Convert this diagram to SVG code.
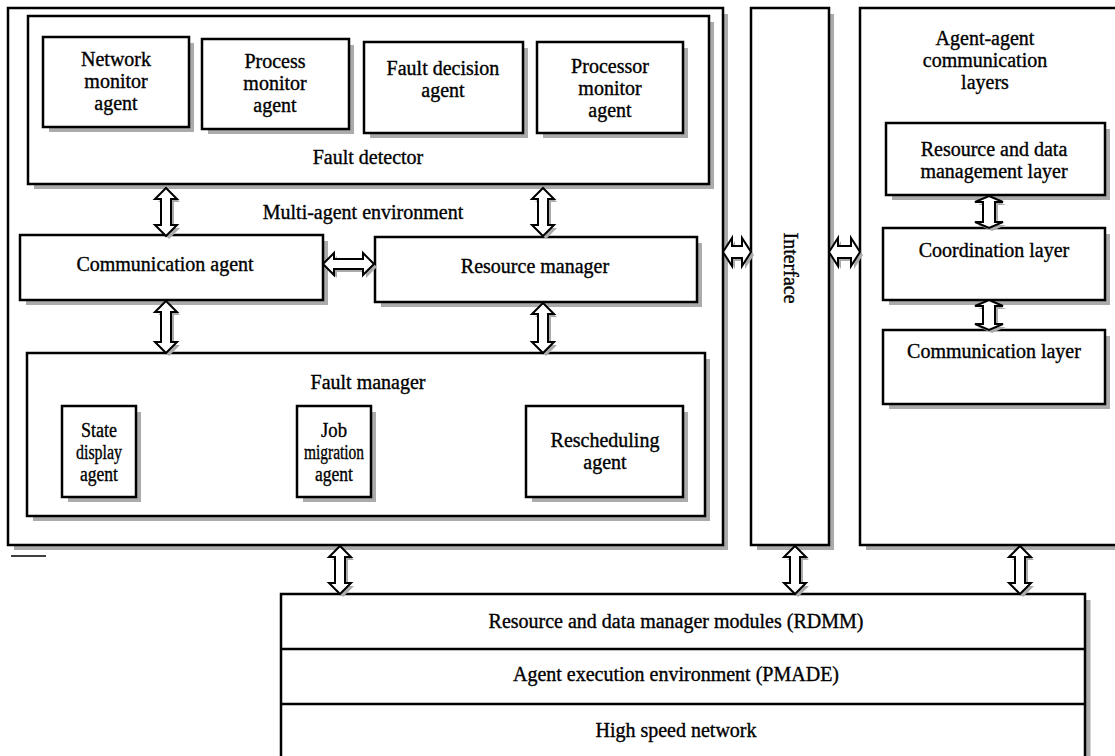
<svg xmlns="http://www.w3.org/2000/svg" width="1115" height="756" viewBox="0 0 1115 756">
<style>
.box{fill:#ffffff;stroke:#000000;stroke-width:2.5}
.sh{fill:none;stroke:#ababab;stroke-width:5}
.ash{fill:#ababab}
.arr{fill:#ffffff;stroke:#000000;stroke-width:2}
text{font-family:"Liberation Serif","Times New Roman",serif;font-size:20px;fill:#000000;stroke:#000000;stroke-width:0.35;text-anchor:middle}
</style>
<rect width="1115" height="756" fill="#ffffff"/>

<g id="multi-agent-environment">
<path class="sh" d="M725.5,14 V547.5 H14"/>
<rect class="box" x="8" y="8" width="715" height="537"/>
<text x="363" y="219">Multi-agent environment</text>
<line x1="11" y1="556" x2="46" y2="556" stroke="#000000" stroke-width="1.5"/>
</g>

<g id="fault-detector">
<path class="sh" d="M711.5,22 V186.5 H34"/>
<rect class="box" x="28" y="16" width="681" height="168"/>
<text x="368" y="164">Fault detector</text>
</g>

<g id="network-monitor-agent">
<path class="sh" d="M191.5,43 V129.5 H49"/>
<rect class="box" x="43" y="37" width="146" height="90"/>
<text x="116" y="66">Network</text>
<text x="116" y="88">monitor</text>
<text x="116" y="110">agent</text>
</g>

<g id="process-monitor-agent">
<path class="sh" d="M351.5,45 V131.5 H208"/>
<rect class="box" x="202" y="39" width="147" height="90"/>
<text x="275" y="68">Process</text>
<text x="275" y="90">monitor</text>
<text x="275" y="112">agent</text>
</g>

<g id="fault-decision-agent">
<path class="sh" d="M525.5,48 V135.5 H370"/>
<rect class="box" x="364" y="42" width="159" height="91"/>
<text x="443" y="75">Fault decision</text>
<text x="443" y="97">agent</text>
</g>

<g id="processor-monitor-agent">
<path class="sh" d="M685.5,48 V135.5 H543"/>
<rect class="box" x="537" y="42" width="146" height="91"/>
<text x="610" y="73">Processor</text>
<text x="610" y="95">monitor</text>
<text x="610" y="117">agent</text>
</g>

<g id="communication-agent">
<path class="sh" d="M325.5,241 V302.5 H26"/>
<rect class="box" x="20" y="235" width="303" height="65"/>
<text x="165" y="271">Communication agent</text>
</g>

<g id="resource-manager">
<path class="sh" d="M699.5,243 V304.5 H381"/>
<rect class="box" x="375" y="237" width="322" height="65"/>
<text x="535" y="273">Resource manager</text>
</g>

<g id="fault-manager">
<path class="sh" d="M707.5,359 V518.5 H33"/>
<rect class="box" x="27" y="353" width="678" height="163"/>
<text x="368" y="389">Fault manager</text>
</g>

<g id="state-display-agent">
<path class="sh" d="M138.5,412 V499.5 H68"/>
<rect class="box" x="62" y="406" width="74" height="91"/>
<text x="99" y="437" textLength="36" lengthAdjust="spacingAndGlyphs">State</text>
<text x="99" y="459" textLength="46" lengthAdjust="spacingAndGlyphs">display</text>
<text x="99" y="481" textLength="38" lengthAdjust="spacingAndGlyphs">agent</text>
</g>

<g id="job-migration-agent">
<path class="sh" d="M373.5,412 V499.5 H303"/>
<rect class="box" x="297" y="406" width="74" height="91"/>
<text x="334" y="437" textLength="26" lengthAdjust="spacingAndGlyphs">Job</text>
<text x="334" y="459" textLength="60" lengthAdjust="spacingAndGlyphs">migration</text>
<text x="334" y="481" textLength="38" lengthAdjust="spacingAndGlyphs">agent</text>
</g>

<g id="rescheduling-agent">
<path class="sh" d="M685.5,412 V499.5 H532"/>
<rect class="box" x="526" y="406" width="157" height="91"/>
<text x="605" y="447">Rescheduling</text>
<text x="605" y="469">agent</text>
</g>

<g id="interface">
<path class="sh" d="M831.5,14 V547.5 H757"/>
<rect class="box" x="751" y="8" width="78" height="537"/>
<text transform="translate(784,268) rotate(90)">Interface</text>
</g>

<g id="agent-agent-communication-layers">
<path class="sh" d="M866,547.5 H1115"/>
<rect class="box" x="860" y="8" width="270" height="537"/>
<text x="985" y="45">Agent-agent</text>
<text x="985" y="67">communication</text>
<text x="985" y="89">layers</text>
</g>

<g id="resource-data-management-layer">
<path class="sh" d="M1107.5,129 V197.5 H892"/>
<rect class="box" x="886" y="123" width="219" height="72"/>
<text x="994" y="156">Resource and data</text>
<text x="994" y="178">management layer</text>
</g>

<g id="coordination-layer">
<path class="sh" d="M1107.5,234 V302.5 H889"/>
<rect class="box" x="883" y="228" width="222" height="72"/>
<text x="994" y="257">Coordination layer</text>
</g>

<g id="communication-layer">
<path class="sh" d="M1107.5,336 V406.5 H889"/>
<rect class="box" x="883" y="330" width="222" height="74"/>
<text x="994" y="358">Communication layer</text>
</g>

<g id="platform-stack">
<path class="sh" d="M1088,600 V756"/>
<rect class="box" x="281" y="594" width="804" height="170"/>
<line x1="281" y1="649" x2="1085" y2="649" stroke="#000000" stroke-width="2.5"/>
<line x1="281" y1="704" x2="1085" y2="704" stroke="#000000" stroke-width="2.5"/>
<text x="676" y="628">Resource and data manager modules (RDMM)</text>
<text x="676" y="681">Agent execution environment (PMADE)</text>
<text x="676" y="737">High speed network</text>
</g>

<g id="connectors">
<path class="ash" transform="translate(3,3)" d="M166,188 L177,199 L171,199 L171,225 L177,225 L166,236 L155,225 L161,225 L161,199 L155,199 Z"/>
<path class="arr" d="M166,188 L177,199 L171,199 L171,225 L177,225 L166,236 L155,225 L161,225 L161,199 L155,199 Z"/>
<path class="ash" transform="translate(3,3)" d="M543,188 L554,199 L548,199 L548,225 L554,225 L543,236 L532,225 L538,225 L538,199 L532,199 Z"/>
<path class="arr" d="M543,188 L554,199 L548,199 L548,225 L554,225 L543,236 L532,225 L538,225 L538,199 L532,199 Z"/>
<path class="ash" transform="translate(3,3)" d="M166,301 L177,312 L171,312 L171,342 L177,342 L166,353 L155,342 L161,342 L161,312 L155,312 Z"/>
<path class="arr" d="M166,301 L177,312 L171,312 L171,342 L177,342 L166,353 L155,342 L161,342 L161,312 L155,312 Z"/>
<path class="ash" transform="translate(3,3)" d="M543,303 L554,314 L548,314 L548,342 L554,342 L543,353 L532,342 L538,342 L538,314 L532,314 Z"/>
<path class="arr" d="M543,303 L554,314 L548,314 L548,342 L554,342 L543,353 L532,342 L538,342 L538,314 L532,314 Z"/>
<path class="ash" transform="translate(3,3)" d="M323,264 L334,253 L334,259 L363,259 L363,253 L374,264 L363,275 L363,269 L334,269 L334,275 Z"/>
<path class="arr" d="M323,264 L334,253 L334,259 L363,259 L363,253 L374,264 L363,275 L363,269 L334,269 L334,275 Z"/>
<path class="ash" transform="translate(3,3)" d="M723,252 L732,238 L732,246 L742,246 L742,238 L751,252 L742,266 L742,258 L732,258 L732,266 Z"/>
<path class="arr" d="M723,252 L732,238 L732,246 L742,246 L742,238 L751,252 L742,266 L742,258 L732,258 L732,266 Z"/>
<path class="ash" transform="translate(3,3)" d="M829,252 L838,238 L838,246 L851,246 L851,238 L860,252 L851,266 L851,258 L838,258 L838,266 Z"/>
<path class="arr" d="M829,252 L838,238 L838,246 L851,246 L851,238 L860,252 L851,266 L851,258 L838,258 L838,266 Z"/>
<path class="ash" transform="translate(3,3)" d="M989,196 L1003,202 L995,202 L995,222 L1003,222 L989,228 L975,222 L983,222 L983,202 L975,202 Z"/>
<path class="arr" d="M989,196 L1003,202 L995,202 L995,222 L1003,222 L989,228 L975,222 L983,222 L983,202 L975,202 Z"/>
<path class="ash" transform="translate(3,3)" d="M989,300 L1003,306 L995,306 L995,324 L1003,324 L989,330 L975,324 L983,324 L983,306 L975,306 Z"/>
<path class="arr" d="M989,300 L1003,306 L995,306 L995,324 L1003,324 L989,330 L975,324 L983,324 L983,306 L975,306 Z"/>
<path class="ash" transform="translate(3,3)" d="M340,546 L351,557 L345,557 L345,583 L351,583 L340,594 L329,583 L335,583 L335,557 L329,557 Z"/>
<path class="arr" d="M340,546 L351,557 L345,557 L345,583 L351,583 L340,594 L329,583 L335,583 L335,557 L329,557 Z"/>
<path class="ash" transform="translate(3,3)" d="M795,546 L806,557 L800,557 L800,583 L806,583 L795,594 L784,583 L790,583 L790,557 L784,557 Z"/>
<path class="arr" d="M795,546 L806,557 L800,557 L800,583 L806,583 L795,594 L784,583 L790,583 L790,557 L784,557 Z"/>
<path class="ash" transform="translate(3,3)" d="M1020,546 L1031,557 L1025,557 L1025,583 L1031,583 L1020,594 L1009,583 L1015,583 L1015,557 L1009,557 Z"/>
<path class="arr" d="M1020,546 L1031,557 L1025,557 L1025,583 L1031,583 L1020,594 L1009,583 L1015,583 L1015,557 L1009,557 Z"/>
</g>
</svg>
